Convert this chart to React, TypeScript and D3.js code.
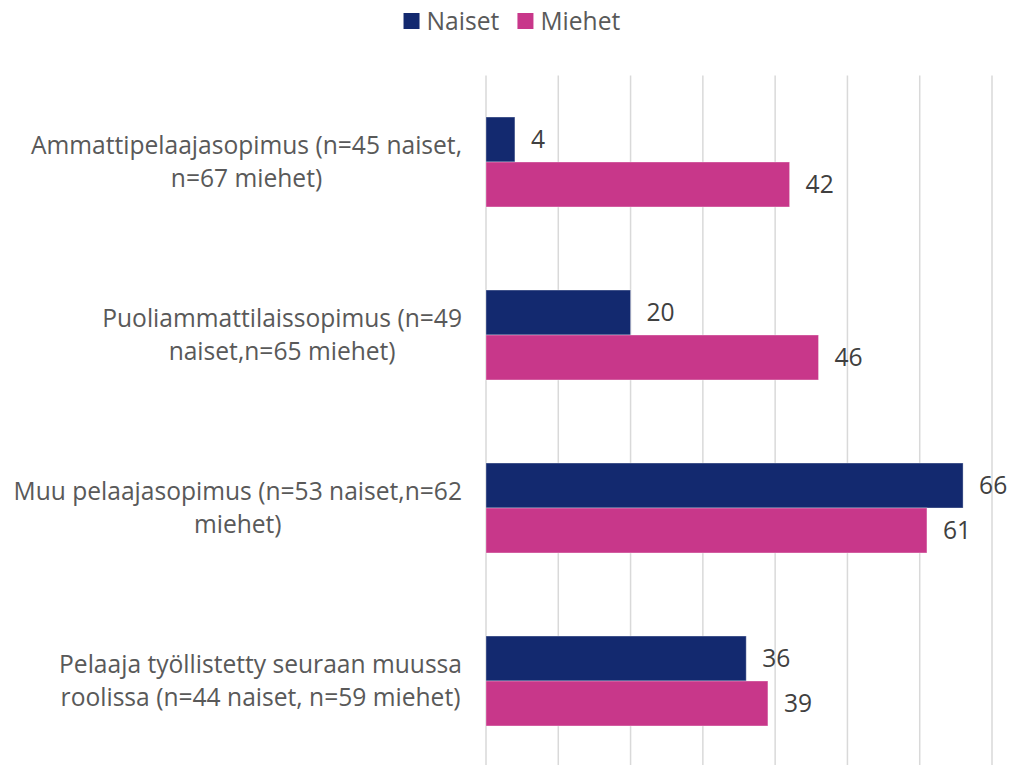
import React, { useEffect, useRef } from 'react';
import * as d3 from 'd3';

const categories: string[][] = [
  ['Ammattipelaajasopimus (n=45 naiset,', 'n=67 miehet)'],
  ['Puoliammattilaissopimus (n=49', 'naiset,n=65 miehet)'],
  ['Muu pelaajasopimus (n=53 naiset,n=62', 'miehet)'],
  ['Pelaaja työllistetty seuraan muussa', 'roolissa (n=44 naiset, n=59 miehet)'],
];
const naiset = [4, 20, 66, 36];
const miehet = [42, 46, 61, 39];
const seriesNames = ['Naiset', 'Miehet'];
const seriesColors = ['#13296F', '#C8378A'];
const gridTicks = [0, 10, 20, 30, 40, 50, 60, 70];

const FONT = '"Open Sans", Lato, sans-serif';
const FS = 24.6;

const App: React.FC = () => {
  const svgRef = useRef<SVGSVGElement>(null);

  useEffect(() => {
    if (!svgRef.current) return;
    const svg = d3.select(svgRef.current);
    svg.selectAll('*').remove();

    const plotLeft = 486;
    const plotRight = 992;
    const plotTop = 75.5;
    const plotBottom = 767.5;

    const x = d3.scaleLinear().domain([0, 70]).range([plotLeft, plotRight]);
    const y = d3.scaleBand<number>()
      .domain(d3.range(categories.length))
      .range([plotTop, plotBottom])
      .paddingInner(0.48)
      .paddingOuter(0.24);
    const sub = d3.scaleBand<number>().domain([0, 1]).range([0, y.bandwidth()]);

    // gridlines
    svg.append('g')
      .selectAll('line')
      .data(gridTicks)
      .join('line')
      .attr('x1', d => x(d))
      .attr('x2', d => x(d))
      .attr('y1', plotTop)
      .attr('y2', plotBottom)
      .attr('stroke', '#d9d9d9')
      .attr('stroke-width', 1.5);

    // bars + value labels
    const series = [naiset, miehet];
    series.forEach((vals, si) => {
      const g = svg.append('g');
      g.selectAll('rect')
        .data(vals)
        .join('rect')
        .attr('x', x(0))
        .attr('y', (_, i) => (y(i) as number) + (sub(si) as number))
        .attr('width', d => x(d) - x(0))
        .attr('height', sub.bandwidth())
        .attr('fill', seriesColors[si])
        .attr('stroke', '#ffffff')
        .attr('stroke-opacity', 0.35)
        .attr('stroke-width', 1);
      g.selectAll('text')
        .data(vals)
        .join('text')
        .attr('x', d => x(d) + 16)
        .attr('y', (_, i) => (y(i) as number) + (sub(si) as number) + sub.bandwidth() / 2)
        .attr('dy', '0.36em')
        .attr('font-family', FONT)
        .attr('font-size', FS)
        .attr('fill', '#404040')
        .text(d => String(d));
    });

    // category labels: wrapped lines centred inside a right-aligned block
    const labelRight = 462;
    categories.forEach((lines, i) => {
      const cy = (y(i) as number) + y.bandwidth() / 2;
      const texts = svg.append('g')
        .selectAll('text')
        .data(lines)
        .join('text')
        .attr('font-family', FONT)
        .attr('font-size', FS)
        .attr('fill', '#595959')
        .attr('text-anchor', 'middle')
        .attr('y', (_, li) => cy - 8 + li * 33)
        .text(d => d);
      let maxW = 0;
      texts.each(function () {
        maxW = Math.max(maxW, (this as SVGTextElement).getComputedTextLength());
      });
      texts.attr('x', labelRight - maxW / 2);
    });

    // legend
    const legend = svg.append('g');
    const items = legend.selectAll('g')
      .data(seriesNames)
      .join('g');
    items.append('rect')
      .attr('width', 16)
      .attr('height', 16)
      .attr('y', 13)
      .attr('fill', (_, i) => seriesColors[i]);
    items.append('text')
      .attr('x', 23)
      .attr('y', 21)
      .attr('dy', '0.36em')
      .attr('font-family', FONT)
      .attr('font-size', FS)
      .attr('fill', '#595959')
      .text(d => d);
    let offset = 0;
    const gap = 18;
    items.each(function () {
      const node = this as SVGGElement;
      const w = node.getBBox().width;
      d3.select(node).attr('transform', `translate(${offset},0)`);
      offset += w + gap;
    });
    const total = offset - gap;
    legend.attr('transform', `translate(${512 - total / 2},0)`);
  }, []);

  return (
    <svg
      ref={svgRef}
      width={1010}
      height={765}
      style={{ position: 'absolute', left: 0, top: 0, background: '#fff' }}
    />
  );
};

export default App;
